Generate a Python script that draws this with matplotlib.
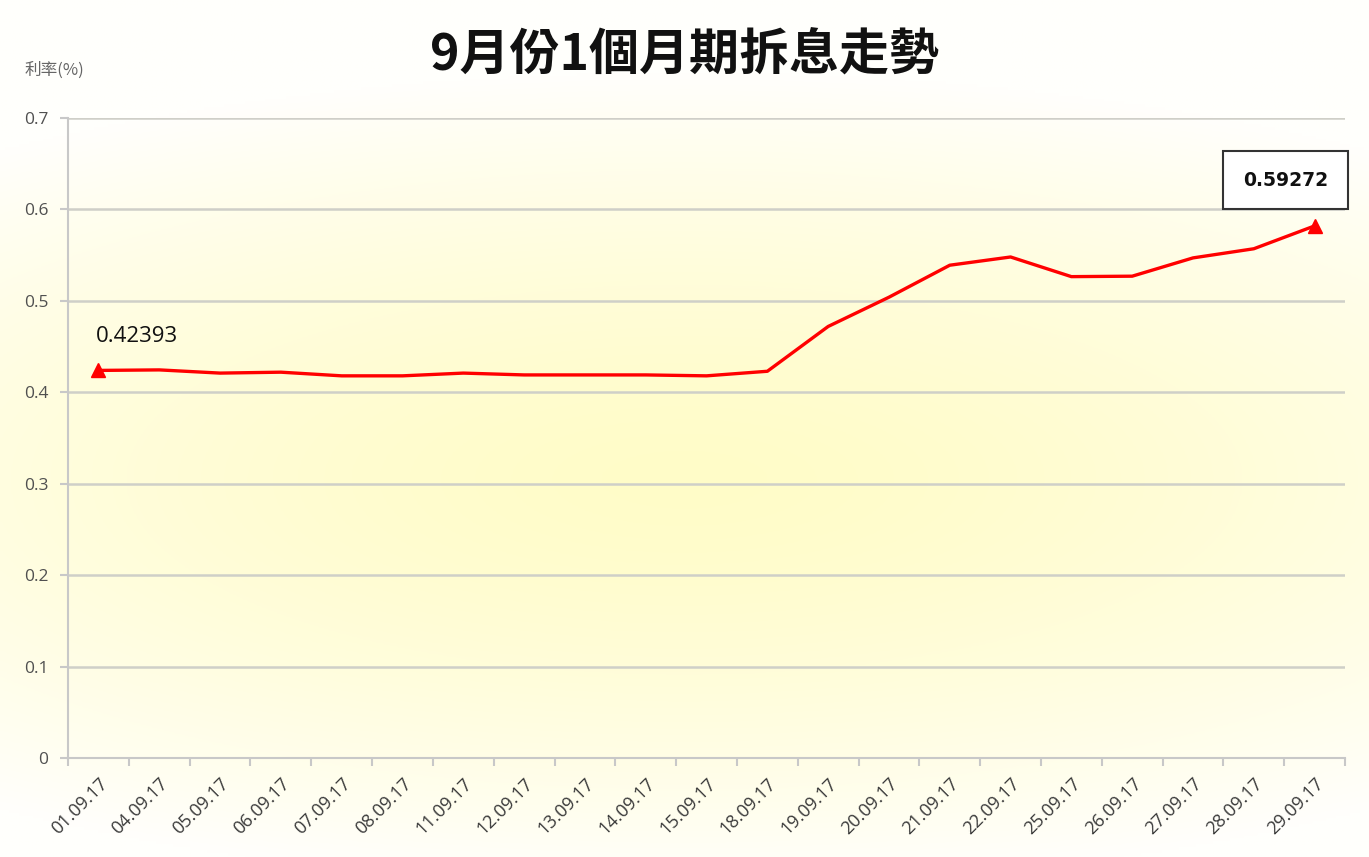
import numpy as np
import matplotlib
matplotlib.use("Agg")
import matplotlib.pyplot as plt

plt.rcParams['font.family'] = ['Open Sans', 'Noto Sans CJK TC', 'DejaVu Sans']

dates = ["01.09.17", "04.09.17", "05.09.17", "06.09.17", "07.09.17", "08.09.17",
         "11.09.17", "12.09.17", "13.09.17", "14.09.17", "15.09.17", "18.09.17",
         "19.09.17", "20.09.17", "21.09.17", "22.09.17", "25.09.17", "26.09.17",
         "27.09.17", "28.09.17", "29.09.17"]
rates = [0.42393, 0.4245, 0.421, 0.422, 0.418, 0.418,
         0.421, 0.419, 0.419, 0.419, 0.418, 0.423,
         0.472, 0.504, 0.539, 0.548, 0.5265, 0.527,
         0.547, 0.557, 0.582]
first_label = "0.42393"
last_label = "0.59272"
yticks = [0, 0.1, 0.2, 0.3, 0.4, 0.5, 0.6, 0.7]

fig = plt.figure(figsize=(13.69, 8.57), dpi=100)

# soft yellow background, strongest a bit below the middle
bg = fig.add_axes([0, 0, 1, 1], zorder=-5)
gx, gy = np.meshgrid(np.linspace(-1, 1, 400), np.linspace(-1, 1, 300))
r = np.sqrt((gx / 1.7) ** 2 + ((gy - 0.12) / 0.95) ** 2)
t = np.clip(r, 0, 1) ** 1.5
c_in = np.array([255, 252, 200]) / 255.0
c_out = np.array([255, 255, 252]) / 255.0
img = c_in[None, None, :] * (1 - t[..., None]) + c_out[None, None, :] * t[..., None]
bg.imshow(img, aspect='auto', extent=[0, 1, 0, 1])
bg.axis('off')

ax = fig.add_axes([0.0497, 0.1155, 0.9328, 0.7468])
ax.set_facecolor('none')
x = np.arange(len(dates))
ax.plot(x, rates, color='#ff0000', lw=2.4, zorder=3)
ax.plot([x[0], x[-1]], [rates[0], rates[-1]], ls='none', marker='^',
        ms=10, color='#ff0000', zorder=4)

ax.set_xlim(-0.5, len(dates) - 0.5)
ax.set_ylim(0, 0.7)
ax.set_yticks(yticks)
ax.set_yticklabels([f"{v:g}" for v in yticks])
ax.yaxis.grid(True, color='#cfcfc8', lw=1.8)
ax.set_axisbelow(True)

ax.set_xticks(x)
ax.set_xticklabels(dates, rotation=45, ha='right', va='top', rotation_mode='anchor')
ax.set_xticks(np.arange(-0.5, len(dates)), minor=True)
ax.tick_params(axis='x', which='major', length=0, pad=12, labelsize=13, labelcolor='#3a3a3a')
ax.tick_params(axis='x', which='minor', length=6, width=1.5, color='#c8c8c8')
ax.tick_params(axis='y', length=6, width=1.5, color='#c8c8c8', labelsize=12.5,
               labelcolor='#505050', pad=8)

for s in ['top', 'right']:
    ax.spines[s].set_visible(False)
for s in ['left', 'bottom']:
    ax.spines[s].set_color('#c8c8c8')
    ax.spines[s].set_linewidth(1.5)

ax.annotate(first_label, (x[0], rates[0]), xytext=(-2, 17), textcoords='offset points',
            fontsize=16, color='#111111', ha='left', va='bottom')
ax.annotate(last_label, (x[-1], rates[-1]), xytext=(-21, 33), textcoords='offset points',
            fontsize=13.5, fontweight='bold', color='#111111', ha='center', va='center',
            family=['DejaVu Sans'],
            bbox=dict(boxstyle='square,pad=1.05', fc='white', ec='#333333', lw=1.5))

fig.text(0.5, 0.935, "9月份1個月期拆息走勢", ha='center', va='center', fontsize=36,
         fontweight='bold', family=['Noto Sans CJK TC', 'DejaVu Sans'], color='#111111')
fig.text(0.018, 0.918, "利率(%)", ha='left', va='center', fontsize=12, color='#666666',
         family=['Noto Sans CJK TC', 'DejaVu Sans'])

fig.savefig("out.png", dpi=100)
